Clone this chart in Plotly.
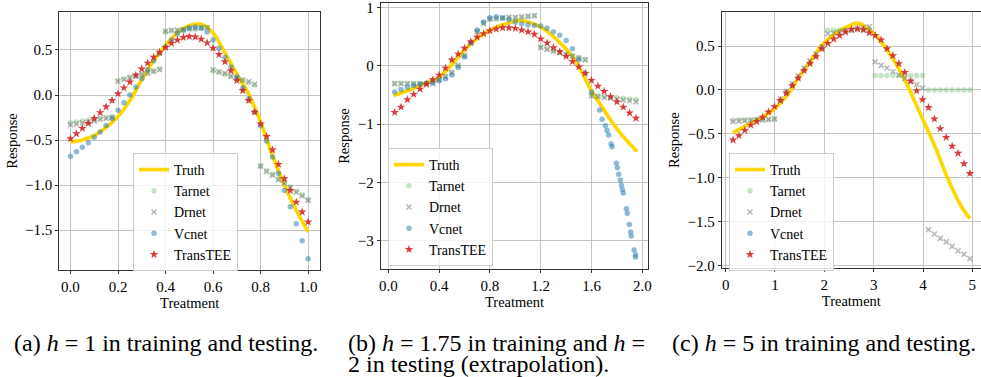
import plotly.graph_objects as go

# ---------------- data: panel (a) h = 1 ----------------
treat_a = [0.000, 0.025, 0.050, 0.075, 0.100, 0.125, 0.150, 0.175, 0.200, 0.225,
           0.250, 0.275, 0.300, 0.325, 0.350, 0.375, 0.400, 0.425, 0.450, 0.475,
           0.500, 0.525, 0.550, 0.575, 0.600, 0.625, 0.650, 0.675, 0.700, 0.725,
           0.750, 0.775, 0.800, 0.825, 0.850, 0.875, 0.900, 0.925, 0.950, 0.975, 1.000]
truth_t_a = [0.00, 0.05, 0.10, 0.15, 0.20, 0.25, 0.30, 0.35, 0.40, 0.45, 0.50,
             0.55, 0.60, 0.65, 0.70, 0.75, 0.80, 0.85, 0.90, 0.95, 1.00]
truth_a = [-0.52, -0.50, -0.45, -0.36, -0.24, -0.06, 0.17, 0.38, 0.55, 0.69, 0.77,
           0.785, 0.69, 0.47, 0.23, 0.01, -0.30, -0.67, -1.00, -1.28, -1.52]
tarnet_a = [-0.31, -0.30, -0.29, -0.28, -0.27, -0.26, -0.25, -0.24,
            0.16, 0.18, 0.20, 0.21, 0.23, 0.25, 0.27, 0.29,
            0.70, 0.71, 0.71, 0.72, 0.73, 0.73, 0.74, 0.75,
            0.27, 0.25, 0.23, 0.21, 0.18, 0.16, 0.14, 0.11,
            -0.79, -0.84, -0.88, -0.93, -0.97, -1.02, -1.07, -1.11, -1.16]
drnet_a = [-0.33, -0.32, -0.31, -0.30, -0.29, -0.27, -0.26, -0.25,
           0.15, 0.17, 0.19, 0.21, 0.23, 0.24, 0.26, 0.28,
           0.71, 0.72, 0.72, 0.73, 0.74, 0.74, 0.75, 0.75,
           0.28, 0.26, 0.24, 0.21, 0.19, 0.17, 0.15, 0.12,
           -0.79, -0.85, -0.89, -0.94, -0.98, -1.03, -1.08, -1.12, -1.17]
vcnet_a = [-0.68, -0.63, -0.58, -0.53, -0.47, -0.41, -0.34, -0.26, -0.17, -0.085,
           0.00, 0.09, 0.18, 0.28, 0.38, 0.46, 0.53, 0.61, 0.68, 0.72,
           0.745, 0.755, 0.745, 0.70, 0.61, 0.52, 0.42, 0.31, 0.20, 0.08,
           -0.04, -0.19, -0.34, -0.51, -0.69, -0.87, -1.06, -1.24, -1.43, -1.62, -1.82]
transtee_a = [-0.485, -0.43, -0.37, -0.315, -0.26, -0.195, -0.13, -0.06, 0.015, 0.08,
              0.145, 0.22, 0.29, 0.355, 0.42, 0.475, 0.53, 0.575, 0.61, 0.64,
              0.65, 0.645, 0.62, 0.58, 0.52, 0.45, 0.37, 0.27, 0.16, 0.05,
              -0.06, -0.19, -0.32, -0.46, -0.61, -0.77, -0.93, -1.06, -1.19, -1.30, -1.41]

# ---------------- data: panel (b) h = 1.75 / 2 ----------------
treat_b = [0.05, 0.10, 0.15, 0.20, 0.25, 0.30, 0.35, 0.40, 0.45, 0.50,
           0.55, 0.60, 0.65, 0.70, 0.75, 0.80, 0.85, 0.90, 0.95, 1.00,
           1.05, 1.10, 1.15, 1.20, 1.25, 1.30, 1.35, 1.40, 1.45, 1.50,
           1.55, 1.60, 1.65, 1.70, 1.75, 1.80, 1.85, 1.90, 1.95]
truth_t_b = [0.04, 0.16, 0.29, 0.40, 0.52, 0.65, 0.80, 0.97, 1.05, 1.20,
             1.33, 1.46, 1.52, 1.59, 1.68, 1.76, 1.84, 1.91, 1.96]
truth_b = [-0.51, -0.42, -0.30, -0.20, 0.07, 0.38, 0.61, 0.75, 0.77, 0.66,
           0.44, 0.13, -0.10, -0.39, -0.70, -0.96, -1.19, -1.36, -1.47]
tarnet_b = [-0.30, -0.30, -0.30, -0.30, -0.30, -0.30, -0.30,
            -0.23, -0.18, -0.11, 0.01, 0.18, 0.39, 0.59, 0.73,
            0.79, 0.80, 0.81, 0.82, 0.82, 0.83, 0.84, 0.85,
            0.32, 0.29, 0.26, 0.23, 0.20, 0.17, 0.14, 0.11,
            -0.51, -0.52, -0.53, -0.54, -0.55, -0.56, -0.57, -0.58]
drnet_b = [-0.31, -0.31, -0.31, -0.31, -0.31, -0.31, -0.31,
           -0.24, -0.19, -0.12, 0.00, 0.17, 0.38, 0.58, 0.72,
           0.80, 0.81, 0.82, 0.83, 0.83, 0.84, 0.85, 0.86,
           0.31, 0.28, 0.25, 0.22, 0.19, 0.16, 0.13, 0.10,
           -0.52, -0.53, -0.545, -0.56, -0.575, -0.59, -0.60, -0.62]
vcnet_t_b = [0.05, 0.10, 0.15, 0.20, 0.25, 0.30, 0.35, 0.40, 0.45, 0.50,
             0.55, 0.60, 0.65, 0.70, 0.75, 0.80, 0.85, 0.90, 0.95, 1.00,
             1.05, 1.10, 1.15, 1.20, 1.25, 1.30, 1.35, 1.40, 1.45, 1.50,
             1.55, 1.60,
             1.664, 1.683, 1.709, 1.722, 1.735, 1.754, 1.761, 1.795, 1.803, 1.814,
             1.827, 1.835, 1.843, 1.850, 1.874, 1.882, 1.898, 1.909, 1.913, 1.935,
             1.945, 1.947]
vcnet_b = [-0.45, -0.41, -0.37, -0.34, -0.32, -0.30, -0.28, -0.26, -0.23, -0.16,
           -0.03, 0.15, 0.40, 0.61, 0.75, 0.82, 0.84, 0.82, 0.79, 0.75,
           0.72, 0.70, 0.69, 0.68, 0.64, 0.58, 0.52, 0.43, 0.29, 0.10,
           -0.12, -0.45,
           -0.76, -0.92, -1.03, -1.11, -1.19, -1.34, -1.39, -1.67, -1.75, -1.86,
           -1.96, -2.05, -2.12, -2.18, -2.45, -2.53, -2.72, -2.85, -2.92, -3.16,
           -3.28, -3.24]
transtee_b = [-0.80, -0.71, -0.58, -0.49, -0.40, -0.32, -0.24, -0.16, -0.04, 0.10,
              0.20, 0.30, 0.41, 0.49, 0.55, 0.60, 0.63, 0.65, 0.65, 0.64,
              0.61, 0.58, 0.54, 0.46, 0.39, 0.31, 0.24, 0.16, 0.07, -0.02,
              -0.13, -0.25, -0.35, -0.44, -0.53, -0.62, -0.71, -0.81, -0.90]

# ---------------- data: panel (c) h = 5 ----------------
treat_c = [0.15, 0.27, 0.39, 0.51, 0.63, 0.75, 0.87, 0.99, 1.11, 1.23,
           1.35, 1.47, 1.59, 1.71, 1.83, 1.95, 2.07, 2.19, 2.31, 2.43,
           2.55, 2.67, 2.79, 2.91, 3.03, 3.15, 3.27, 3.39, 3.51, 3.63,
           3.75, 3.87, 3.99, 4.11, 4.23, 4.35, 4.47, 4.59, 4.71, 4.83, 4.95]
truth_t_c = [0.15, 0.50, 0.78, 1.00, 1.25, 1.49, 1.76, 2.00, 2.27, 2.54,
             2.68, 3.00, 3.29, 3.56, 3.76, 4.00, 4.24, 4.51, 4.78, 4.95]
truth_c = [-0.485, -0.38, -0.30, -0.21, -0.06, 0.15, 0.36, 0.54, 0.66, 0.74,
           0.76, 0.64, 0.44, 0.19, -0.04, -0.34, -0.64, -1.02, -1.33, -1.465]
tarnet_c = [-0.345, -0.343, -0.341, -0.340, -0.340, -0.338, -0.336, -0.335,
            -0.12, -0.04, 0.05, 0.14, 0.23, 0.31, 0.39, 0.47,
            0.68, 0.68, 0.68, 0.68, 0.68, 0.685, 0.685, 0.685,
            0.165, 0.165, 0.165, 0.165, 0.165, 0.165, 0.165, 0.165, 0.165,
            0.0, 0.0, 0.0, 0.0, 0.0, 0.0, 0.0, 0.0]
drnet_c = [-0.36, -0.355, -0.35, -0.345, -0.34, -0.34, -0.335, -0.33,
           -0.10, -0.02, 0.07, 0.16, 0.25, 0.33, 0.41, 0.49,
           0.64, 0.65, 0.66, 0.67, 0.68, 0.70, 0.71, 0.72,
           0.32, 0.28, 0.25, 0.21, 0.17, 0.13, 0.10, 0.06, 0.02,
           -1.59, -1.64, -1.69, -1.73, -1.78, -1.83, -1.87, -1.92]
vcnet_t_c = [None]   # Vcnet shows no visible points in panel (c)
vcnet_c = [None]
transtee_c = [-0.57, -0.52, -0.46, -0.40, -0.36, -0.31, -0.25, -0.19, -0.12, -0.035,
              0.05, 0.135, 0.22, 0.30, 0.38, 0.47, 0.53, 0.58, 0.62, 0.66,
              0.69, 0.695, 0.685, 0.65, 0.62, 0.57, 0.47, 0.39, 0.30, 0.20,
              0.10, -0.01, -0.11, -0.20, -0.33, -0.44, -0.54, -0.64, -0.72, -0.84, -0.95]

series_names = ["Truth", "Tarnet", "Drnet", "Vcnet", "TransTEE"]
captions = ["(a) <i>h</i> = 1 in training and testing.",
            "(b) <i>h</i> = 1.75 in training and <i>h</i> =",
            "2 in testing (extrapolation).",
            "(c) <i>h</i> = 5 in training and testing."]

# ---------------- styling ----------------
SERIF = "Liberation Serif, Times New Roman, serif"
C_TRUTH = "#FFD700"
C_TAR = "rgba(44,160,44,0.28)"
C_DR = "rgba(127,127,127,0.55)"
C_VC = "rgba(31,119,180,0.5)"
C_TT = "rgba(214,39,40,0.9)"

fig = go.Figure()

panels = [
    dict(xa="x", ya="y", lg="legend", tt=truth_t_a, tv=truth_a, t=treat_a,
         tar=tarnet_a, dr=drnet_a, vct=treat_a, vc=vcnet_a, trt=transtee_a),
    dict(xa="x2", ya="y2", lg="legend2", tt=truth_t_b, tv=truth_b, t=treat_b,
         tar=tarnet_b, dr=drnet_b, vct=vcnet_t_b, vc=vcnet_b, trt=transtee_b),
    dict(xa="x3", ya="y3", lg="legend3", tt=truth_t_c, tv=truth_c, t=treat_c,
         tar=tarnet_c, dr=drnet_c, vct=vcnet_t_c, vc=vcnet_c, trt=transtee_c),
]

for p in panels:
    common = dict(xaxis=p["xa"], yaxis=p["ya"], legend=p["lg"])
    fig.add_trace(go.Scatter(x=p["tt"], y=p["tv"], mode="lines", name=series_names[0],
                             line=dict(color=C_TRUTH, width=3.7, shape="spline"), **common))
    fig.add_trace(go.Scatter(x=p["t"], y=p["tar"], mode="markers", name=series_names[1],
                             marker=dict(symbol="circle", size=5.5, color=C_TAR, line=dict(width=0)),
                             **common))
    fig.add_trace(go.Scatter(x=p["t"], y=p["dr"], mode="markers", name=series_names[2],
                             marker=dict(symbol="x-thin", size=5, color=C_DR,
                                         line=dict(width=1.6, color=C_DR)), **common))
    fig.add_trace(go.Scatter(x=p["vct"], y=p["vc"], mode="markers", name=series_names[3],
                             marker=dict(symbol="circle", size=5.5, color=C_VC, line=dict(width=0)),
                             **common))
    fig.add_trace(go.Scatter(x=p["t"], y=p["trt"], mode="markers", name=series_names[4],
                             marker=dict(symbol="star", size=6.5, color=C_TT, line=dict(width=0)),
                             **common))

W, H = 981, 377

def ax(domain, rng, tickvals, fmt, title, anchor, standoff):
    return dict(domain=domain, range=rng, tickvals=tickvals, tickformat=fmt,
                anchor=anchor, showgrid=True, gridcolor="#c4c4c4", gridwidth=1,
                zeroline=False, showline=True, linecolor="#333333", linewidth=1,
                mirror=True, ticks="outside", ticklen=3, tickcolor="#333333",
                tickfont=dict(family=SERIF, size=15, color="black"),
                ticklabeloverflow="allow",
                title=dict(text=title, font=dict(family=SERIF, size=14.5, color="black"),
                           standoff=standoff),
                automargin=False)

def dom_x(l, r):
    return [l / W, r / W]

def dom_y(top, bottom):
    return [1 - bottom / H, 1 - top / H]

fig.update_layout(
    width=W, height=H, margin=dict(l=0, r=0, t=0, b=0),
    paper_bgcolor="white", plot_bgcolor="white",
    xaxis=ax(dom_x(59.3, 320), [-0.047, 1.05], [0, 0.2, 0.4, 0.6, 0.8, 1.0], ".1f",
             "Treatment", "y", 0),
    yaxis=ax(dom_y(12, 270), [-1.944, 0.922], [-1.5, -1.0, -0.5, 0.0, 0.5], ".1f",
             "Response", "x", 4),
    xaxis2=ax(dom_x(380.7, 648.3), [-0.06, 2.047], [0, 0.4, 0.8, 1.2, 1.6, 2.0], ".1f",
              "Treatment", "y2", 0),
    yaxis2=ax(dom_y(2.7, 269.3), [-3.49, 1.08], [-3, -2, -1, 0, 1], "d",
              "Response", "x2", 4),
    xaxis3=ax(dom_x(721.7, 981), [-0.08, 5.175], [0, 1, 2, 3, 4, 5], "d",
              "Treatment", "y3", 0),
    yaxis3=ax(dom_y(12, 268.3), [-2.03, 0.887], [-2.0, -1.5, -1.0, -0.5, 0.0, 0.5], ".1f",
              "Response", "x3", 4),
    showlegend=True,
)

leg_common = dict(xanchor="left", yanchor="top", bgcolor="rgba(255,255,255,0.8)",
                  bordercolor="#cccccc", borderwidth=1,
                  font=dict(family=SERIF, size=14, color="black"), tracegroupgap=0,
                  itemwidth=30)
fig.update_layout(
    legend=dict(x=133 / W, y=1 - 153 / H, **leg_common),
    legend2=dict(x=388 / W, y=1 - 148 / H, **leg_common),
    legend3=dict(x=729 / W, y=1 - 153 / H, **leg_common),
)

cap_font = dict(family=SERIF, size=24, color="black")
cap_pos = [(166, 343), (496, 343), (478, 364), (824, 343)]
for txt, (cx, cy) in zip(captions, cap_pos):
    fig.add_annotation(text=txt, x=cx / W, y=1 - cy / H, xref="paper", yref="paper",
                       xanchor="center", yanchor="middle", showarrow=False, font=cap_font)

fig.write_html("out.html", config={"displayModeBar": False},
               post_script="document.body.style.margin='0';document.body.style.overflow='hidden';")
